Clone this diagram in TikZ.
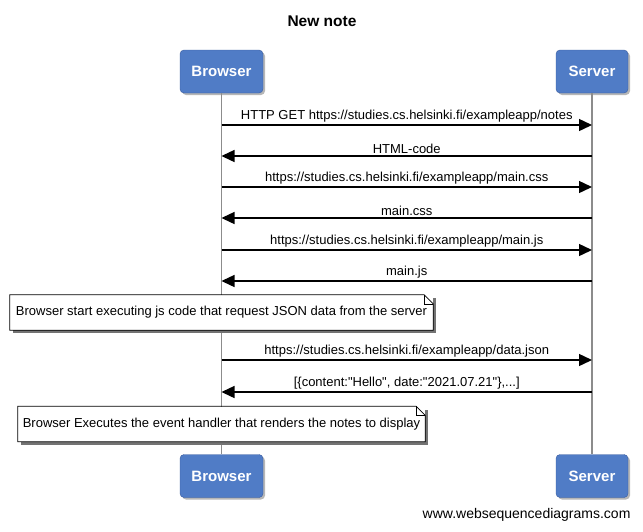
\documentclass[tikz,border=0pt]{standalone}
\usepackage{fontspec}
\setmainfont{Liberation Sans}[Ligatures=TeXOff]
\usetikzlibrary{arrows.meta,shadows,positioning}

\definecolor{actorblue}{RGB}{80,124,198}
\definecolor{actorline}{RGB}{58,92,158}
\definecolor{lifegray}{RGB}{140,140,140}

\tikzset{
    actor/.style={draw=actorline, fill=actorblue, rounded corners=4pt, text=white,
        font=\fontsize{15}{18}\selectfont\bfseries, minimum height=43pt,
        drop shadow={shadow xshift=2pt, shadow yshift=-2pt, fill=black!40, opacity=.7}},
    lifeline/.style={lifegray, line width=1.3pt},
    msg/.style={-{Triangle[length=13pt,width=12pt]}, line width=1.4pt},
    msglabel/.style={above, inner sep=2pt, font=\fontsize{13}{15}\selectfont},
    note/.style={fill=white, minimum height=35pt, inner sep=4pt, font=\fontsize{13}{15}\selectfont,
        drop shadow={shadow xshift=3pt, shadow yshift=-3pt, fill=black!55, opacity=1}},
}

\begin{document}
\begin{tikzpicture}[x=1pt, y=-1pt]
    \useasboundingbox (0,0) rectangle (643,531);

    % Title
    \node[font=\fontsize{15.5}{18}\selectfont\bfseries] (title) at (322,21) {New note};

    % Participants
    \node[actor, minimum width=83pt] (browserTop) at (221.5,71.5) {Browser};
    \node[actor, minimum width=72pt] (serverTop) at (592,71.5) {Server};
    \node[actor, minimum width=83pt] (browserBot) at (221.5,476) {Browser};
    \node[actor, minimum width=72pt] (serverBot) at (592,476) {Server};

    % Lifelines
    \draw[lifeline] (browserTop) -- (browserBot);
    \draw[lifeline] (serverTop) -- (serverBot);

    % Points on the lifelines
    \coordinate (b1) at (221.5,125);  \coordinate (s1) at (592,125);
    \coordinate (b2) at (221.5,156);  \coordinate (s2) at (592,156);
    \coordinate (b3) at (221.5,187);  \coordinate (s3) at (592,187);
    \coordinate (b4) at (221.5,218);  \coordinate (s4) at (592,218);
    \coordinate (b5) at (221.5,250);  \coordinate (s5) at (592,250);
    \coordinate (b6) at (221.5,281);  \coordinate (s6) at (592,281);
    \coordinate (b7) at (221.5,360);  \coordinate (s7) at (592,360);
    \coordinate (b8) at (221.5,392);  \coordinate (s8) at (592,392);

    % Messages
    \draw[msg] (b1) -- (s1) node[msglabel, midway] {HTTP GET https://studies.cs.helsinki.fi/exampleapp/notes};
    \draw[msg] (s2) -- (b2) node[msglabel, midway] {HTML-code};
    \draw[msg] (b3) -- (s3) node[msglabel, midway] {https://studies.cs.helsinki.fi/exampleapp/main.css};
    \draw[msg] (s4) -- (b4) node[msglabel, midway] {main.css};
    \draw[msg] (b5) -- (s5) node[msglabel, midway] {https://studies.cs.helsinki.fi/exampleapp/main.js};
    \draw[msg] (s6) -- (b6) node[msglabel, midway] {main.js};
    \draw[msg] (b7) -- (s7) node[msglabel, midway] {https://studies.cs.helsinki.fi/exampleapp/data.json};
    \draw[msg] (s8) -- (b8) node[msglabel, midway] {[\{content:"Hello", date:"2021.07.21"\},...]};

    % Notes
    \node[note, minimum width=423pt] (noteJs) at (221.5,312.5) {Browser start executing js code that request JSON data from the server};
    \node[note, minimum width=407pt] (noteRender) at (221.5,424) {Browser Executes the event handler that renders the notes to display};
    \foreach \n in {noteJs,noteRender} {
        \draw[line width=0.8pt] (\n.south west) -- (\n.north west) -- ([xshift=-9pt]\n.north east)
            -- ([yshift=-9pt]\n.north east) -- (\n.south east) -- cycle;
        \draw[line width=0.6pt] ([xshift=-9pt]\n.north east) |- ([yshift=-9pt]\n.north east);
    }

    % Footer
    \node[anchor=east, font=\fontsize{14}{16}\selectfont] (footer) at (634,515) {www.websequencediagrams.com};
\end{tikzpicture}
\end{document}
